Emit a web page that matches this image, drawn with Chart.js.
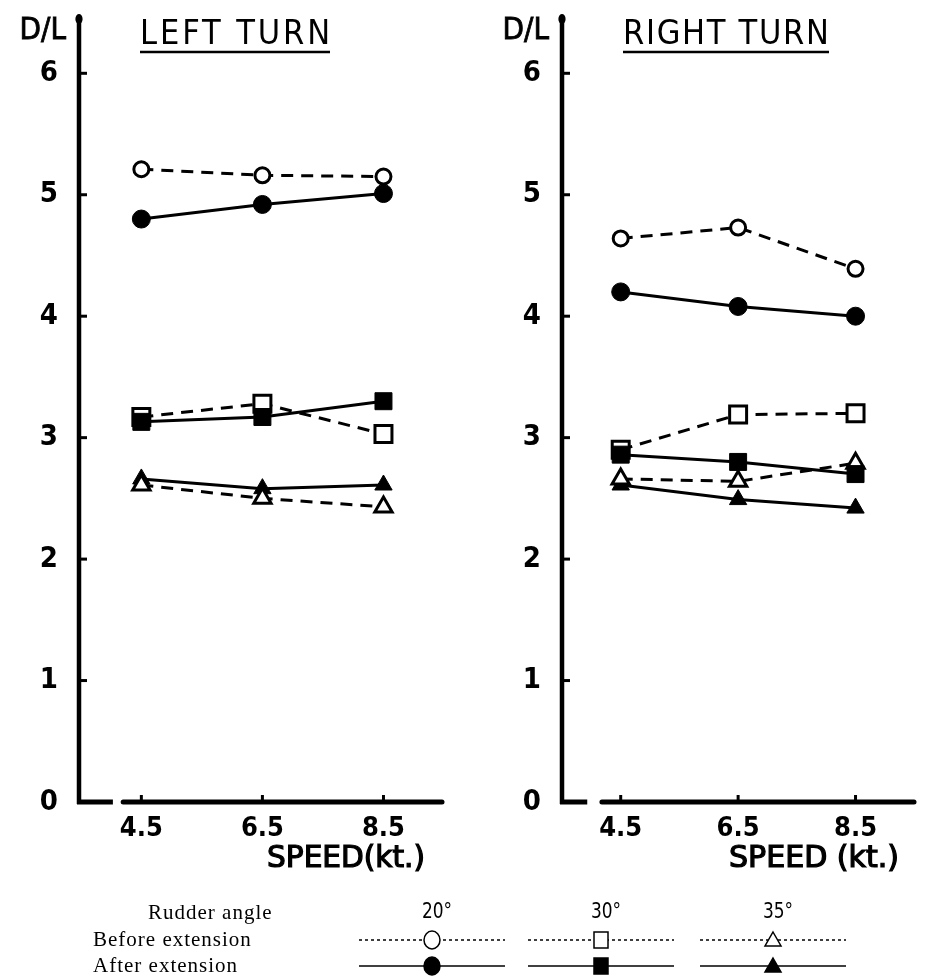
<!DOCTYPE html>
<html>
<head>
<meta charset="utf-8">
<title>D/L vs speed</title>
<script src="https://cdn.jsdelivr.net/npm/chart.js@4.4.0/dist/chart.umd.min.js"></script>
<style>
  html, body { margin: 0; padding: 0; background: #fff; }
  #wrap { position: relative; width: 931px; height: 979px; overflow: hidden; }
  #leftChart { position: absolute; left: 0; top: 0; }
  #rightChart { position: absolute; left: 466px; top: 0; }
  #legend { position: absolute; left: 0; top: 0; width: 931px; height: 979px; }
  .lg-text { position: absolute; font-family: 'Liberation Serif', 'Times New Roman', serif; font-size: 21px; letter-spacing: 1px; line-height: 1; transform: translateY(-50%); white-space: nowrap; }
  .lg-angle { position: absolute; font-family: 'DejaVu Sans Condensed', 'Liberation Sans Narrow', sans-serif; font-size: 21px; line-height: 1; transform: translate(-50%, -50%) scaleX(0.9); }
  #legendMarks { position: absolute; left: 0; top: 0; }
</style>
</head>
<body>
<div id="wrap">
  <canvas id="leftChart" width="465" height="890"></canvas>
  <canvas id="rightChart" width="465" height="890"></canvas>
  <div id="legend"></div>
</div>
<script>
const speeds = [4.5, 6.5, 8.5];
const yTickValues = [0, 1, 2, 3, 4, 5, 6];
const rudderAngles = ['20°', '30°', '35°'];
const rowLabels = ['Rudder angle', 'Before extension', 'After extension'];

// LEFT TURN  (D/L)
const leftBefore20 = [5.21, 5.16, 5.15];
const leftAfter20  = [4.80, 4.92, 5.01];
const leftBefore30 = [3.17, 3.28, 3.03];
const leftAfter30  = [3.13, 3.17, 3.30];
const leftBefore35 = [2.61, 2.50, 2.43];
const leftAfter35  = [2.66, 2.58, 2.61];

// RIGHT TURN
const rightBefore20 = [4.64, 4.73, 4.39];
const rightAfter20  = [4.20, 4.08, 4.00];
const rightBefore30 = [2.90, 3.19, 3.20];
const rightAfter30  = [2.86, 2.80, 2.70];
const rightBefore35 = [2.66, 2.64, 2.79];
const rightAfter35  = [2.61, 2.49, 2.42];

const AXIS_FONT = "'DejaVu Sans Condensed', 'Liberation Sans Narrow', 'DejaVu Sans', sans-serif";

function series(values, shape, filled) {
    let r = 9;
    if (shape === 'rect') r = 12;
    else if (shape === 'triangle') r = 10;
    else if (!filled) r = 7.5;
    return {
        data: values.map((v, i) => ({ x: speeds[i], y: v })),
        borderColor: '#000',
        borderWidth: 3,
        borderDash: filled ? [] : [12, 8],
        pointStyle: shape,
        pointRadius: r,
        pointBorderWidth: filled ? 1 : 3,
        pointBackgroundColor: filled ? '#000' : '#fff',
        pointBorderColor: '#000',
        tension: 0,
        fill: false
    };
}

// draws the axis lines, inward ticks and the panel texts
const panelDecor = {
    id: 'panelDecor',
    beforeDatasetsDraw(chart, args, opts) {
        const { ctx, chartArea } = chart;
        const x = chart.scales.x, y = chart.scales.y;
        const left = chartArea.left;
        const top = chartArea.top;
        const bottom = y.getPixelForValue(0);
        ctx.save();
        ctx.strokeStyle = '#000';
        ctx.fillStyle = '#000';

        // y axis with the little knob on top
        ctx.lineWidth = 4.5;
        ctx.beginPath();
        ctx.moveTo(left, top + 4);
        ctx.lineTo(left, bottom + 2);
        ctx.stroke();
        ctx.beginPath();
        ctx.ellipse(left, top + 4, 3.6, 5, 0, 0, Math.PI * 2);
        ctx.fill();

        ctx.lineWidth = 3;
        y.ticks.forEach(t => {
            if (t.value === 0) return;
            const py = y.getPixelForValue(t.value);
            ctx.beginPath();
            ctx.moveTo(left, py);
            ctx.lineTo(left + 8, py);
            ctx.stroke();
        });

        // broken x axis
        ctx.lineWidth = 5;
        ctx.beginPath();
        ctx.moveTo(left - 2, bottom);
        ctx.lineTo(x.getPixelForValue(opts.stubEnd), bottom);
        ctx.stroke();
        ctx.lineCap = 'round';
        ctx.beginPath();
        ctx.moveTo(x.getPixelForValue(opts.axisStart), bottom);
        ctx.lineTo(chartArea.right - 2, bottom);
        ctx.stroke();
        ctx.lineCap = 'butt';
        ctx.lineWidth = 3;
        x.ticks.forEach(t => {
            const px = x.getPixelForValue(t.value);
            ctx.beginPath();
            ctx.moveTo(px, bottom);
            ctx.lineTo(px, bottom - 7);
            ctx.stroke();
        });

        // D/L
        ctx.font = '31px ' + AXIS_FONT;
        ctx.textAlign = 'right';
        ctx.textBaseline = 'middle';
        ctx.lineWidth = 0.8;
        ctx.fillText('D/L', left - 13, 31);
        ctx.strokeText('D/L', left - 13, 31);

        // panel title, underlined
        ctx.font = '34px ' + AXIS_FONT;
        ctx.textAlign = 'left';
        const plain = ctx.measureText(opts.title).width;
        const gap = (opts.titleWidth - plain) / (opts.title.length - 1);
        ctx.letterSpacing = gap.toFixed(1) + 'px';
        ctx.fillText(opts.title, left + 61, 35);
        ctx.letterSpacing = '0px';
        ctx.lineWidth = 2.5;
        ctx.beginPath();
        ctx.moveTo(left + 61, 52);
        ctx.lineTo(left + 61 + opts.titleWidth, 52);
        ctx.stroke();

        // x axis title
        ctx.font = '31px ' + AXIS_FONT;
        const w = ctx.measureText(opts.xTitle).width;
        const sx = opts.xTitleWidth / w;
        ctx.translate(chartArea.right - opts.xTitleRight - opts.xTitleWidth, 859);
        ctx.scale(sx, 1);
        ctx.textAlign = 'left';
        ctx.lineWidth = 1.2;
        ctx.fillText(opts.xTitle, 0, 0);
        ctx.strokeText(opts.xTitle, 0, 0);
        ctx.restore();
    }
};

function makePanel(canvasId, datasets, cfg) {
    return new Chart(document.getElementById(canvasId), {
        type: 'line',
        data: { datasets: datasets },
        plugins: [panelDecor],
        options: {
            responsive: false,
            animation: false,
            events: [],
            layout: { padding: { left: 0, top: 12, right: cfg.rightPad, bottom: 0 } },
            plugins: {
                legend: { display: false },
                tooltip: { enabled: false },
                panelDecor: cfg.decor
            },
            scales: {
                x: {
                    type: 'linear',
                    min: cfg.xMin,
                    max: cfg.xMax,
                    grid: { display: false, drawTicks: false },
                    border: { display: false },
                    afterBuildTicks: scale => { scale.ticks = speeds.map(v => ({ value: v })); },
                    afterFit: scale => {
                        scale.height = 88;
                        scale.paddingLeft = 0;
                        scale.paddingRight = 0;
                    },
                    ticks: {
                        color: '#000',
                        padding: 11,
                        maxRotation: 0,
                        font: { family: AXIS_FONT, size: 27, weight: 'bold' },
                        callback: v => v.toFixed(1)
                    }
                },
                y: {
                    min: 0,
                    max: 6.48,
                    grid: { display: false, drawTicks: false },
                    border: { display: false },
                    afterBuildTicks: scale => { scale.ticks = yTickValues.map(v => ({ value: v })); },
                    afterFit: scale => {
                        scale.width = cfg.yWidth;
                        scale.paddingTop = 0;
                        scale.paddingBottom = 0;
                    },
                    ticks: {
                        color: '#000',
                        padding: 21,
                        font: { family: AXIS_FONT, size: 29, weight: 'bold' },
                        callback: v => String(v)
                    }
                }
            }
        }
    });
}

makePanel('leftChart', [
    series(leftBefore20, 'circle', false),
    series(leftAfter20, 'circle', true),
    series(leftAfter30, 'rect', true),
    series(leftBefore30, 'rect', false),
    series(leftBefore35, 'triangle', false),
    series(leftAfter35, 'triangle', true)
], {
    xMin: 3.47, xMax: 9.5, yWidth: 79, rightPad: 21,
    decor: { title: 'LEFT TURN', titleWidth: 190, xTitle: 'SPEED(kt.)', xTitleWidth: 158, xTitleRight: 19, stubEnd: 4.03, axisStart: 4.2 }
});

makePanel('rightChart', [
    series(rightBefore20, 'circle', false),
    series(rightAfter20, 'circle', true),
    series(rightAfter30, 'rect', true),
    series(rightBefore30, 'rect', false),
    series(rightBefore35, 'triangle', false),
    series(rightAfter35, 'triangle', true)
], {
    xMin: 3.5, xMax: 9.53, yWidth: 96, rightPad: 1,
    decor: { title: 'RIGHT TURN', titleWidth: 206, xTitle: 'SPEED (kt.)', xTitleWidth: 170, xTitleRight: 17, stubEnd: 3.93, axisStart: 4.18 }
});

// legend under the panels
(function buildLegend() {
    const box = document.getElementById('legend');
    const rowY = [912, 939, 965];
    const rowX = [148, 93, 93];
    rowLabels.forEach((txt, i) => {
        const s = document.createElement('span');
        s.className = 'lg-text';
        s.textContent = txt;
        s.style.left = rowX[i] + 'px';
        s.style.top = rowY[i] + 'px';
        box.appendChild(s);
    });
    const colX = [432, 601, 773];
    const shapes = ['circle', 'rect', 'triangle'];
    const ns = 'http://www.w3.org/2000/svg';
    const svg = document.createElementNS(ns, 'svg');
    svg.setAttribute('id', 'legendMarks');
    svg.setAttribute('width', 931);
    svg.setAttribute('height', 979);
    box.appendChild(svg);
    const el = (name, attrs) => {
        const e = document.createElementNS(ns, name);
        Object.keys(attrs).forEach(k => e.setAttribute(k, attrs[k]));
        svg.appendChild(e);
        return e;
    };
    rudderAngles.forEach((a, i) => {
        const s = document.createElement('span');
        s.className = 'lg-angle';
        s.textContent = a;
        s.style.left = (colX[i] + 5) + 'px';
        s.style.top = (rowY[0] - 1) + 'px';
        box.appendChild(s);
        [false, true].forEach((filled, k) => {
            const cy = rowY[k + 1] + 1;
            const cx = colX[i];
            el('line', { x1: cx - 73, y1: cy, x2: cx + 73, y2: cy, stroke: '#000', 'stroke-width': 1.5, 'stroke-dasharray': filled ? 'none' : '3 3' });
            const paint = { fill: filled ? '#000' : '#fff', stroke: '#000', 'stroke-width': 1.5 };
            if (shapes[i] === 'circle') el('ellipse', Object.assign({ cx: cx, cy: cy, rx: 8, ry: 9 }, paint));
            else if (shapes[i] === 'rect') el('rect', Object.assign({ x: cx - 7, y: cy - 8, width: 14, height: 16 }, paint));
            else el('polygon', Object.assign({ points: `${cx},${cy - 8} ${cx + 8},${cy + 6} ${cx - 8},${cy + 6}` }, paint));
        });
    });
})();
</script>
</body>
</html>
